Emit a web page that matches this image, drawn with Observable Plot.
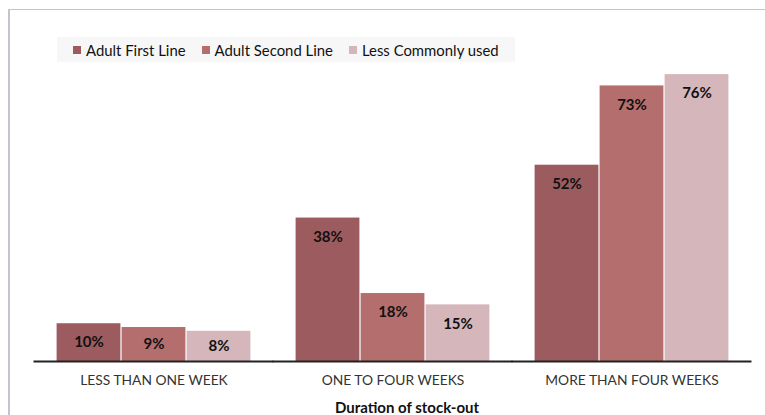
<!DOCTYPE html>
<html>
<head>
<meta charset="utf-8">
<script src="https://cdn.jsdelivr.net/npm/d3@7"></script>
<script src="https://cdn.jsdelivr.net/npm/@observablehq/plot@0.6"></script>
<style>
  html, body { margin: 0; padding: 0; background: #fff; }
  #wrap { position: relative; width: 765px; height: 415px; overflow: hidden; font-family: Lato, "Open Sans", sans-serif; }
  #frame { position: absolute; left: 8px; top: 9px; right: -4px; bottom: -4px; border-left: 2px solid #c4c4cc; border-top: 1.5px solid #c4c4cc; }
  #legend { position: absolute; left: 57px; top: 37px; width: 458px; height: 25px; background: #f7f7f7; display: flex; align-items: center; padding-left: 16px; box-sizing: border-box; font-size: 14.9px; color: #111; }
  #legend .item { display: flex; align-items: center; margin-right: 16px; }
  #legend .sw { width: 8px; height: 8px; margin-right: 5px; }
  #plot { position: absolute; left: 0; top: 0; }
  #xtitle { position: absolute; left: 307px; width: 200px; top: 398px; text-align: center; font-weight: bold; font-size: 15px; color: #111; }
</style>
</head>
<body>
<div id="wrap">
  <div id="frame"></div>
  <div id="plot"></div>
  <div id="legend"></div>
  <div id="xtitle"></div>
</div>
<script>
const categories = ["LESS THAN ONE WEEK", "ONE TO FOUR WEEKS", "MORE THAN FOUR WEEKS"];
const seriesNames = ["Adult First Line", "Adult Second Line", "Less Commonly used"];
const seriesColors = ["#9c5b5f", "#b46e6e", "#d5b6bb"];
const adultFirstLine = [10, 38, 52];
const adultSecondLine = [9, 18, 73];
const lessCommonlyUsed = [8, 15, 76];
const axisTitle = "Duration of stock-out";

const seriesValues = [adultFirstLine, adultSecondLine, lessCommonlyUsed];
const data = [];
categories.forEach((c, i) => {
  seriesNames.forEach((s, j) => {
    data.push({ group: c, series: s, value: seriesValues[j][i] });
  });
});

const chart = Plot.plot({
  width: 765,
  height: 415,
  marginTop: 59,
  marginBottom: 54,
  marginLeft: 33,
  marginRight: 12,
  style: { fontFamily: "Lato, 'Open Sans', sans-serif", background: "transparent" },
  fx: { domain: categories, paddingInner: 0.183, paddingOuter: 0.092, label: null },
  x: { domain: seriesNames, padding: 0, axis: null },
  y: { domain: [0, 80], axis: null },
  color: { domain: seriesNames, range: seriesColors },
  marks: [
    Plot.barY(data, { fx: "group", x: "series", y: "value", fill: "series", insetLeft: 0.6, insetRight: 0.6 }),
    // label sits ~5 units below the bar top, or at the bar's middle for short bars
    Plot.text(data, { fx: "group", x: "series", y: d => Math.max(d.value / 2, d.value - 5), text: d => d.value + "%", fontWeight: "bold", fontSize: 15, fill: "#111" }),
    Plot.ruleY([0], { stroke: "#222", strokeWidth: 2, insetLeft: -22.5, insetRight: -22.5 }),
    Plot.axisFx({ anchor: "bottom", tickSize: 0, tickPadding: 14, label: null, fontSize: 13.8, color: "#333" })
  ]
});
document.getElementById("plot").appendChild(chart);

const legend = document.getElementById("legend");
seriesNames.forEach((s, j) => {
  const it = document.createElement("div");
  it.className = "item";
  const sw = document.createElement("div");
  sw.className = "sw";
  sw.style.background = seriesColors[j];
  const t = document.createElement("span");
  t.textContent = s;
  it.appendChild(sw);
  it.appendChild(t);
  legend.appendChild(it);
});
document.getElementById("xtitle").textContent = axisTitle;
</script>
</body>
</html>
